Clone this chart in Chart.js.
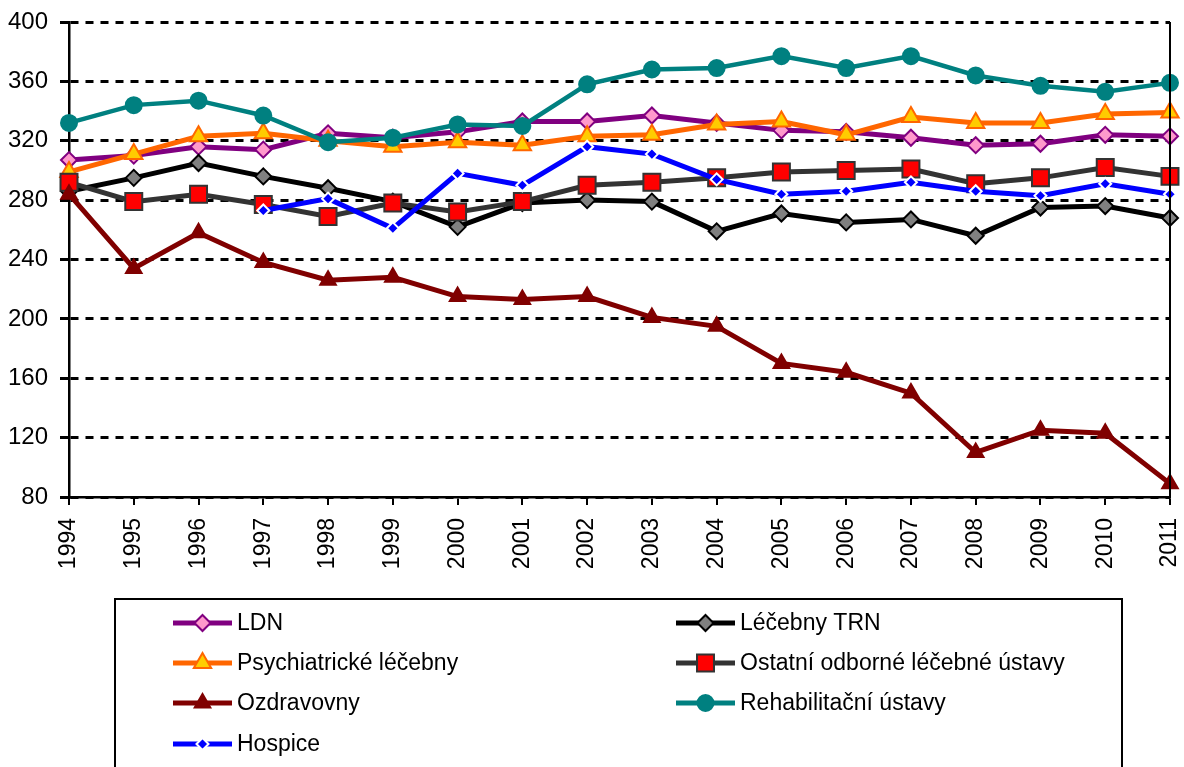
<!DOCTYPE html>
<html lang="cs">
<head>
<meta charset="utf-8">
<title>Lůžková péče 1994–2011</title>
<script src="https://cdn.jsdelivr.net/npm/chart.js@4.4.1/dist/chart.umd.min.js"></script>
<style>
  html, body { margin: 0; padding: 0; background: #fff; }
  canvas { display: block; }
</style>
</head>
<body>
<canvas id="chart" width="1184" height="767"></canvas>
<script>
// data
const years = ['1994', '1995', '1996', '1997', '1998', '1999', '2000', '2001', '2002',
  '2003', '2004', '2005', '2006', '2007', '2008', '2009', '2010', '2011'];
const yTicks = [80, 120, 160, 200, 240, 280, 320, 360, 400];

const ldn = [307, 310, 316, 314, 325, 322, 326, 333, 333, 337, 332, 327, 326, 322, 317, 318, 324, 323];
const trn = [286, 295, 305, 296, 288, 279, 262, 278, 280, 279, 259, 271, 265, 267, 256, 275, 276, 268];
const psych = [299, 311, 323, 325, 320, 316, 319, 317, 323, 324, 331, 333, 324, 336, 332, 332, 338, 339];
const ostatni = [292, 279, 284, 277, 269, 278, 272, 279, 290, 292, 295, 299, 300, 301, 291, 295, 302, 296];
const ozdrav = [284, 234, 258, 238, 226, 228, 215, 213, 215, 201, 195, 170, 164, 150, 110, 125, 123, 89];
const rehab = [332, 344, 347, 337, 319, 322, 331, 330, 358, 368, 369, 377, 369, 377, 364, 357, 353, 359];
const hospice = [null, null, null, 273, 281, 261, 298, 290, 316, 311, 294, 284, 286, 292, 286, 283, 291, 284];

const seriesNames = ['LDN', 'Léčebny TRN', 'Psychiatrické léčebny', 'Ostatní odborné léčebné ústavy',
  'Ozdravovny', 'Rehabilitační ústavy', 'Hospice'];

const FONT = 'Liberation Sans, Arial, sans-serif';

function series(i, data, line, fill, border, style, radius, width) {
  return {
    label: seriesNames[i],
    data: data,
    borderColor: line,
    backgroundColor: line,
    borderWidth: width,
    pointStyle: style,
    pointRadius: radius,
    pointHoverRadius: radius,
    pointBackgroundColor: fill,
    pointBorderColor: border,
    pointBorderWidth: 2,
    tension: 0,
    fill: false,
    order: 6 - i
  };
}

const datasets = [
  series(0, ldn, '#800080', '#FF99CC', '#800080', 'rectRot', 8, 5),
  series(1, trn, '#000000', '#808080', '#000000', 'rectRot', 8, 5),
  series(2, psych, '#FF6600', '#FFCC00', '#FF6600', 'triangle', 10, 5),
  series(3, ostatni, '#333333', '#FF0000', '#333333', 'rect', 12, 5),
  series(4, ozdrav, '#800000', '#800000', '#800000', 'triangle', 9, 5),
  series(5, rehab, '#008080', '#008080', '#008080', 'circle', 8, 4.5),
  series(6, hospice, '#0000FF', '#0000FF', '#FFFFFF', 'rectRot', 6, 5)
];

// right border of the plot area
const frame = {
  id: 'frame',
  afterDatasetsDraw(chart) {
    const { ctx, chartArea } = chart;
    ctx.save();
    ctx.strokeStyle = '#000';
    ctx.lineWidth = 2;
    ctx.beginPath();
    ctx.moveTo(chartArea.right, chartArea.top);
    ctx.lineTo(chartArea.right, chartArea.bottom);
    ctx.stroke();
    ctx.restore();
  }
};

// boxed two-column legend under the chart
const boxLegend = {
  id: 'boxLegend',
  afterDraw(chart) {
    const ctx = chart.ctx;
    ctx.save();
    ctx.strokeStyle = '#000';
    ctx.lineWidth = 2;
    ctx.strokeRect(115, 599, 1007, 200);

    const cols = [173, 676];
    const rows = [623, 663, 703, 744];
    chart.data.datasets.forEach((ds, i) => {
      const x = cols[i % 2];
      const y = rows[Math.floor(i / 2)];
      ctx.strokeStyle = ds.borderColor;
      ctx.lineWidth = 5;
      ctx.beginPath();
      ctx.moveTo(x, y);
      ctx.lineTo(x + 59, y);
      ctx.stroke();

      ctx.fillStyle = ds.pointBackgroundColor;
      ctx.strokeStyle = ds.pointBorderColor;
      ctx.lineWidth = ds.pointBorderWidth;
      Chart.helpers.drawPoint(ctx, {
        pointStyle: ds.pointStyle,
        radius: ds.pointRadius,
        rotation: 0,
        borderWidth: ds.pointBorderWidth
      }, x + 29.5, y);

      ctx.fillStyle = '#000';
      ctx.font = '23px ' + FONT;
      ctx.textBaseline = 'middle';
      ctx.textAlign = 'left';
      ctx.fillText(ds.label, x + 64, y + 1);
    });
    ctx.restore();
  }
};

new Chart(document.getElementById('chart'), {
  type: 'line',
  data: { labels: years, datasets: datasets },
  options: {
    responsive: false,
    animation: false,
    events: [],
    layout: { padding: { left: 0, top: 22, right: 12, bottom: 190 } },
    plugins: {
      legend: { display: false },
      tooltip: { enabled: false }
    },
    scales: {
      x: {
        offset: false,
        grid: { drawOnChartArea: false, drawTicks: true, tickLength: 8, color: '#000', lineWidth: 2 },
        border: { color: '#000', width: 2.5 },
        ticks: {
          autoSkip: false, minRotation: 90, maxRotation: 90, padding: 13,
          color: '#000', font: { family: FONT, size: 23 }
        },
        afterFit(scale) {
          scale.height = 80;
          scale.paddingLeft = 0;
          scale.paddingRight = 0;
        }
      },
      y: {
        min: yTicks[0],
        max: yTicks[yTicks.length - 1],
        afterBuildTicks(scale) { scale.ticks = yTicks.map(v => ({ value: v })); },
        grid: { color: '#000', lineWidth: 3, tickLength: 9, tickBorderDash: [] },
        border: { color: '#000', width: 2.5, dash: [8, 7] },
        ticks: { padding: 12, color: '#000', font: { family: FONT, size: 24 } },
        afterFit(scale) {
          scale.width = 69;
          scale.paddingTop = 0;
          scale.paddingBottom = 0;
        }
      }
    }
  },
  plugins: [frame, boxLegend]
});
</script>
</body>
</html>
